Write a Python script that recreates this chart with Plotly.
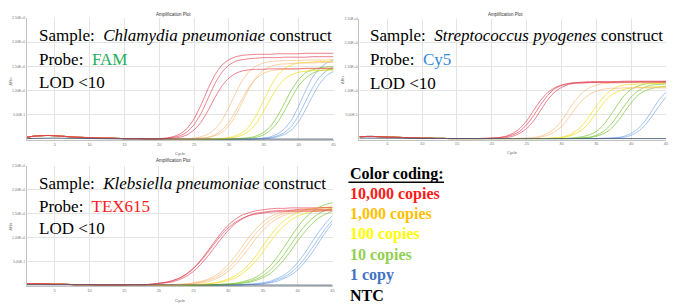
import plotly.graph_objects as go

W, H = 678, 304

CYCLES = list(range(1, 46))          # x axis: cycle number
X_TICKS = [5, 10, 15, 20, 25, 30, 35, 40, 45]
Y_TICKS = [0.5, 1.0, 1.5, 2.0, 2.5]
Y_TICK_TEXT = ["5.00E-1", "1.00E+0", "1.50E+0", "2.00E+0", "2.50E+0"]

# ---- Panel 1 : Chlamydia pneumoniae / FAM  (early cycles 1-18 shared, then cycles 19-45 per curve)
P1_BASE = [0.04, 0.06, 0.07, 0.075, 0.07, 0.06, 0.05, 0.04, 0.035, 0.03, 0.025, 0.02, 0.02, 0.015, 0.01, 0.01, 0.01, 0.005]
P1_RED = [
    [0.01, 0.01, 0.02, 0.05, 0.11, 0.22, 0.42, 0.71, 1.04, 1.33, 1.53, 1.64, 1.70, 1.73, 1.74, 1.75, 1.75, 1.75, 1.76, 1.76, 1.76, 1.76, 1.77, 1.77, 1.77, 1.77, 1.77],
    [0.00, 0.01, 0.02, 0.04, 0.07, 0.15, 0.30, 0.53, 0.84, 1.15, 1.38, 1.53, 1.61, 1.64, 1.66, 1.67, 1.68, 1.68, 1.68, 1.69, 1.69, 1.69, 1.69, 1.70, 1.70, 1.70, 1.70],
    [0.00, 0.00, 0.01, 0.02, 0.04, 0.09, 0.19, 0.35, 0.59, 0.86, 1.10, 1.26, 1.36, 1.41, 1.43, 1.44, 1.44, 1.45, 1.45, 1.45, 1.45, 1.45, 1.46, 1.46, 1.46, 1.46, 1.46],
]
P1_ORANGE = [
    [0, 0, 0, 0, 0, 0.01, 0.02, 0.05, 0.10, 0.21, 0.39, 0.66, 0.96, 1.23, 1.41, 1.52, 1.57, 1.60, 1.61, 1.62, 1.62, 1.62, 1.63, 1.63, 1.63, 1.63, 1.64],
    [0, 0, 0, 0, 0, 0, 0.01, 0.02, 0.04, 0.09, 0.19, 0.35, 0.59, 0.86, 1.10, 1.26, 1.36, 1.41, 1.43, 1.44, 1.44, 1.45, 1.45, 1.45, 1.45, 1.46, 1.46],
    [0, 0, 0, 0, 0, 0, 0.01, 0.02, 0.03, 0.07, 0.14, 0.28, 0.50, 0.79, 1.07, 1.29, 1.43, 1.50, 1.54, 1.55, 1.56, 1.57, 1.57, 1.57, 1.58, 1.58, 1.58],
]
P1_YELLOW = [
    [0, 0, 0, 0, 0, 0, 0, 0, 0, 0.01, 0.02, 0.03, 0.07, 0.14, 0.28, 0.51, 0.80, 1.09, 1.32, 1.46, 1.53, 1.57, 1.58, 1.59, 1.60, 1.60, 1.61],
    [0, 0, 0, 0, 0, 0, 0, 0, 0, 0.00, 0.01, 0.02, 0.04, 0.09, 0.18, 0.34, 0.58, 0.84, 1.08, 1.24, 1.33, 1.38, 1.40, 1.41, 1.42, 1.42, 1.42],
]
P1_GREEN = [
    [0, 0, 0, 0, 0, 0, 0, 0, 0, 0, 0, 0, 0.01, 0.02, 0.03, 0.07, 0.14, 0.27, 0.48, 0.75, 1.02, 1.23, 1.37, 1.43, 1.47, 1.49, 1.49],
    [0, 0, 0, 0, 0, 0, 0, 0, 0, 0, 0, 0, 0, 0.01, 0.02, 0.04, 0.09, 0.19, 0.35, 0.59, 0.86, 1.10, 1.26, 1.36, 1.41, 1.43, 1.44],
]
P1_BLUE = [
    [0, 0, 0, 0, 0, 0, 0, 0, 0, 0, 0, 0, 0, 0, 0, 0.01, 0.02, 0.05, 0.11, 0.22, 0.40, 0.68, 1.00, 1.28, 1.46, 1.57, 1.63],
    [0, 0, 0, 0, 0, 0, 0, 0, 0, 0, 0, 0, 0, 0, 0, 0.01, 0.02, 0.03, 0.07, 0.14, 0.27, 0.49, 0.78, 1.06, 1.28, 1.41, 1.48],
    [0, 0, 0, 0, 0, 0, 0, 0, 0, 0, 0, 0, 0, 0, 0, 0, 0.01, 0.02, 0.05, 0.10, 0.19, 0.36, 0.61, 0.89, 1.14, 1.31, 1.40],
]
P1_NTC = [0] * 27

# ---- Panel 2 : Streptococcus pyogenes / Cy5
P2_BASE = [0.04, 0.045, 0.045, 0.04, 0.035, 0.03, 0.025, 0.02, 0.015, 0.01, 0.01, 0.005, 0.005, 0, 0, 0, 0, 0]
P2_RED = [
    [0.00, 0.01, 0.02, 0.04, 0.08, 0.15, 0.29, 0.48, 0.71, 0.90, 1.04, 1.11, 1.15, 1.17, 1.18, 1.19, 1.19, 1.19, 1.19, 1.19, 1.20, 1.20, 1.20, 1.20, 1.20, 1.20, 1.20],
    [0.01, 0.01, 0.02, 0.05, 0.11, 0.21, 0.37, 0.59, 0.80, 0.96, 1.06, 1.12, 1.15, 1.16, 1.16, 1.17, 1.17, 1.17, 1.17, 1.18, 1.18, 1.18, 1.18, 1.18, 1.18, 1.18, 1.18],
    [0.00, 0.01, 0.01, 0.02, 0.05, 0.11, 0.21, 0.37, 0.59, 0.81, 0.97, 1.07, 1.13, 1.16, 1.17, 1.17, 1.18, 1.18, 1.18, 1.18, 1.18, 1.18, 1.19, 1.19, 1.19, 1.19, 1.19],
]
P2_ORANGE = [
    [0, 0, 0, 0, 0.00, 0.01, 0.01, 0.02, 0.05, 0.11, 0.21, 0.37, 0.59, 0.80, 0.96, 1.06, 1.12, 1.15, 1.16, 1.16, 1.17, 1.17, 1.17, 1.17, 1.17, 1.17, 1.17],
    [0, 0, 0, 0, 0, 0.00, 0.01, 0.01, 0.03, 0.07, 0.14, 0.25, 0.43, 0.63, 0.81, 0.92, 0.99, 1.03, 1.05, 1.05, 1.06, 1.06, 1.06, 1.06, 1.06, 1.06, 1.06],
]
P2_YELLOW = [
    [0, 0, 0, 0, 0, 0, 0, 0, 0.00, 0.01, 0.02, 0.03, 0.07, 0.15, 0.28, 0.47, 0.68, 0.87, 1.00, 1.08, 1.12, 1.13, 1.14, 1.15, 1.15, 1.15, 1.15],
    [0, 0, 0, 0, 0, 0, 0, 0, 0, 0.00, 0.01, 0.02, 0.05, 0.10, 0.19, 0.34, 0.54, 0.74, 0.89, 0.98, 1.03, 1.06, 1.07, 1.07, 1.08, 1.08, 1.08],
]
P2_GREEN = [
    [0, 0, 0, 0, 0, 0, 0, 0, 0, 0, 0, 0.00, 0.01, 0.02, 0.04, 0.08, 0.15, 0.28, 0.48, 0.70, 0.90, 1.03, 1.10, 1.14, 1.16, 1.17, 1.18],
    [0, 0, 0, 0, 0, 0, 0, 0, 0, 0, 0, 0, 0.00, 0.01, 0.02, 0.03, 0.07, 0.15, 0.28, 0.47, 0.68, 0.87, 1.00, 1.08, 1.12, 1.13, 1.14],
    [0, 0, 0, 0, 0, 0, 0, 0, 0, 0, 0, 0, 0, 0.00, 0.01, 0.02, 0.05, 0.10, 0.19, 0.35, 0.55, 0.75, 0.91, 1.00, 1.05, 1.08, 1.09],
]
P2_BLUE = [
    [0, 0, 0, 0, 0, 0, 0, 0, 0, 0, 0, 0, 0, 0, 0, 0, 0, 0.01, 0.01, 0.02, 0.05, 0.11, 0.21, 0.37, 0.59, 0.81, 0.97],
    [0, 0, 0, 0, 0, 0, 0, 0, 0, 0, 0, 0, 0, 0, 0, 0, 0, 0, 0.01, 0.02, 0.03, 0.07, 0.15, 0.28, 0.47, 0.68, 0.87],
]
P2_NTC = [0] * 27

# ---- Panel 3 : Klebsiella pneumoniae / TEX615
P3_BASE = [0.03, 0.03, 0.03, 0.025, 0.02, 0.02, 0.015, 0.01, 0.01, 0.01, 0.005, 0.005, 0.005, 0.005, 0.005, 0.01, 0.01, 0.01]
P3_RED = [
    [0.02, 0.04, 0.06, 0.10, 0.15, 0.24, 0.36, 0.52, 0.71, 0.91, 1.10, 1.26, 1.38, 1.47, 1.52, 1.56, 1.58, 1.60, 1.61, 1.61, 1.62, 1.62, 1.62, 1.62, 1.62, 1.63, 1.63],
    [0.02, 0.04, 0.06, 0.09, 0.15, 0.23, 0.35, 0.50, 0.68, 0.87, 1.05, 1.20, 1.32, 1.40, 1.46, 1.49, 1.51, 1.53, 1.54, 1.54, 1.55, 1.55, 1.55, 1.55, 1.55, 1.56, 1.56],
    [0.02, 0.03, 0.05, 0.07, 0.12, 0.19, 0.29, 0.43, 0.60, 0.79, 0.98, 1.15, 1.29, 1.39, 1.46, 1.51, 1.53, 1.55, 1.56, 1.57, 1.57, 1.58, 1.58, 1.58, 1.58, 1.58, 1.58],
]
P3_ORANGE = [
    [0.00, 0.00, 0.01, 0.01, 0.02, 0.03, 0.05, 0.08, 0.12, 0.19, 0.29, 0.44, 0.61, 0.81, 1.01, 1.18, 1.33, 1.43, 1.50, 1.54, 1.57, 1.59, 1.60, 1.61, 1.61, 1.62, 1.62],
    [0.00, 0.00, 0.01, 0.01, 0.01, 0.02, 0.04, 0.06, 0.10, 0.15, 0.24, 0.36, 0.51, 0.70, 0.90, 1.09, 1.24, 1.36, 1.45, 1.50, 1.54, 1.56, 1.58, 1.59, 1.59, 1.60, 1.60],
    [0.00, 0.00, 0.00, 0.01, 0.01, 0.02, 0.03, 0.05, 0.07, 0.12, 0.19, 0.29, 0.43, 0.60, 0.79, 0.98, 1.15, 1.29, 1.39, 1.46, 1.51, 1.53, 1.55, 1.56, 1.57, 1.57, 1.58],
]
P3_YELLOW = [
    [0, 0, 0, 0, 0, 0.01, 0.01, 0.02, 0.03, 0.05, 0.08, 0.13, 0.20, 0.30, 0.44, 0.62, 0.83, 1.03, 1.21, 1.35, 1.45, 1.52, 1.57, 1.60, 1.62, 1.63, 1.64],
    [0, 0, 0, 0, 0, 0, 0.01, 0.01, 0.02, 0.04, 0.06, 0.10, 0.15, 0.24, 0.36, 0.51, 0.70, 0.90, 1.09, 1.24, 1.36, 1.45, 1.50, 1.54, 1.56, 1.58, 1.59],
]
P3_GREEN = [
    [0, 0, 0, 0, 0, 0, 0, 0, 0, 0.01, 0.02, 0.03, 0.04, 0.07, 0.11, 0.17, 0.27, 0.40, 0.58, 0.79, 1.01, 1.22, 1.40, 1.53, 1.63, 1.69, 1.73],
    [0, 0, 0, 0, 0, 0, 0, 0, 0, 0.01, 0.01, 0.02, 0.03, 0.05, 0.08, 0.13, 0.20, 0.31, 0.46, 0.64, 0.85, 1.06, 1.24, 1.39, 1.50, 1.57, 1.62],
    [0, 0, 0, 0, 0, 0, 0, 0, 0, 0, 0.01, 0.01, 0.02, 0.04, 0.06, 0.10, 0.16, 0.24, 0.37, 0.53, 0.72, 0.93, 1.12, 1.28, 1.41, 1.49, 1.55],
]
P3_BLUE = [
    [0, 0, 0, 0, 0, 0, 0, 0, 0, 0, 0, 0, 0.01, 0.01, 0.02, 0.03, 0.05, 0.08, 0.14, 0.21, 0.32, 0.48, 0.67, 0.89, 1.11, 1.30, 1.46],
    [0, 0, 0, 0, 0, 0, 0, 0, 0, 0, 0, 0, 0, 0.01, 0.02, 0.02, 0.04, 0.06, 0.11, 0.17, 0.26, 0.39, 0.56, 0.77, 0.98, 1.19, 1.36],
    [0, 0, 0, 0, 0, 0, 0, 0, 0, 0, 0, 0, 0, 0, 0.01, 0.02, 0.03, 0.05, 0.08, 0.14, 0.21, 0.32, 0.48, 0.67, 0.89, 1.11, 1.30],
]
P3_NTC = [0] * 27

LINE_COLORS = {
    "blue": "rgba(100,155,232,0.6)",
    "green": "rgba(118,196,48,0.7)",
    "yellow": "rgba(242,222,40,0.75)",
    "orange": "rgba(248,176,105,0.6)",
    "red": "rgba(226,58,78,0.65)",
    "ntc": "rgba(70,86,112,0.9)",
}

LEGEND_ITEMS = ["10,000 copies", "1,000 copies", "100 copies", "10 copies", "1 copy", "NTC"]
LEGEND_COLORS = ["#FF1A1A", "#FFC000", "#FFFF00", "#92D050", "#4472C4", "#000000"]


def px(x):
    return x / W


def py(y):
    return 1 - y / H


# plot-area pixel boxes (left, right, top, bottom)
BOXES = [(27, 335, 16, 139), (361, 669, 17, 138.5), (27, 334, 165, 286)]

panels = [
    (P1_BASE, [("blue", P1_BLUE), ("green", P1_GREEN), ("yellow", P1_YELLOW), ("orange", P1_ORANGE), ("red", P1_RED)], P1_NTC),
    (P2_BASE, [("blue", P2_BLUE), ("green", P2_GREEN), ("yellow", P2_YELLOW), ("orange", P2_ORANGE), ("red", P2_RED)], P2_NTC),
    (P3_BASE, [("blue", P3_BLUE), ("green", P3_GREEN), ("yellow", P3_YELLOW), ("orange", P3_ORANGE), ("red", P3_RED)], P3_NTC),
]

fig = go.Figure()
layout = dict(
    width=W, height=H, margin=dict(l=0, r=0, t=0, b=0),
    paper_bgcolor="white", plot_bgcolor="white", showlegend=False,
    font=dict(family="Liberation Sans, Arial", color="#555"),
)

for i, (base, groups, ntc) in enumerate(panels):
    n = "" if i == 0 else str(i + 1)
    xa, ya = "x" + n, "y" + n
    for cname, reps in groups:
        for rep in reps:
            fig.add_trace(go.Scatter(
                x=CYCLES, y=base + rep, mode="lines", xaxis=xa, yaxis=ya,
                line=dict(color=LINE_COLORS[cname], width=1, shape="spline", smoothing=0.5),
                hoverinfo="skip"))
    fig.add_trace(go.Scatter(
        x=CYCLES, y=[v * 0.3 for v in base] + ntc, mode="lines", xaxis=xa, yaxis=ya,
        line=dict(color=LINE_COLORS["ntc"], width=1), hoverinfo="skip"))
    l, r, t, b = BOXES[i]
    layout["xaxis" + n] = dict(
        domain=[px(l), px(r)], anchor=ya, range=[1, 45], tickvals=X_TICKS,
        showgrid=True, gridcolor="#e4e4e4", gridwidth=1, zeroline=False,
        showline=True, linecolor="#c4c4c4", linewidth=1, ticks="",
        tickfont=dict(size=4, color="#777"))
    layout["yaxis" + n] = dict(
        domain=[py(b), py(t)], anchor=xa, range=[-0.02, 2.5], tickvals=Y_TICKS,
        ticktext=Y_TICK_TEXT, showgrid=True, gridcolor="#e4e4e4", gridwidth=1,
        zeroline=False, showline=True, linecolor="#c4c4c4", linewidth=1,
        ticks="", tickfont=dict(size=3.5, color="#777"))

fig.update_layout(**layout)

ann = []


def add_text(x, y, text, size, color="black", family="Times New Roman, Liberation Serif, serif", xanchor="left", angle=0):
    ann.append(dict(x=px(x), y=py(y), xref="paper", yref="paper", text=text, showarrow=False,
                    xanchor=xanchor, yanchor="middle", textangle=angle,
                    font=dict(size=size, color=color, family=family)))


SMALL = "Liberation Sans, Arial"
# chart titles, axis titles
for (tx, ty) in [(174, 13), (508, 13), (174, 160)]:
    add_text(tx, ty, "Amplification Plot", 4.5, "#333", SMALL, "center")
for (tx, ty) in [(181, 152), (515, 151), (181, 300)]:
    add_text(tx, ty, "Cycle", 4, "#666", SMALL, "center")
for (tx, ty) in [(11, 80), (344, 78), (11, 226)]:
    add_text(tx, ty, "ΔRn", 4, "#666", SMALL, "center", -90)

SP = "\u00a0 "
add_text(37, 34, "Sample:" + SP + "<i>Chlamydia pneumoniae</i> construct", 17)
add_text(37, 58, "Probe:" + SP + "<span style='color:#1DB058'>FAM</span>", 17)
add_text(37, 81, "LOD &lt;10", 17)

add_text(370, 34, "Sample:" + SP + "<i>Streptococcus pyogenes</i> construct", 17)
add_text(370, 58, "Probe:" + SP + "<span style='color:#2E8BD6'>Cy5</span>", 17)
add_text(370, 82, "LOD &lt;10", 17)

add_text(37, 183, "Sample:" + SP + "<i>Klebsiella pneumoniae</i> construct", 17)
add_text(37, 206, "Probe:" + SP + "<span style='color:#FF1A1A'>TEX615</span>", 17)
add_text(37, 228, "LOD &lt;10", 17)

add_text(350, 173, "<b>Color coding:</b>", 16)
for k, (lab, col) in enumerate(zip(LEGEND_ITEMS, LEGEND_COLORS)):
    add_text(350, 193 + k * 20.4, "<b>" + lab + "</b>", 16, col)

fig.update_layout(annotations=ann, shapes=[
    dict(type="line", xref="paper", yref="paper", x0=px(350), x1=px(446), y0=py(181.5), y1=py(181.5),
         line=dict(color="black", width=1.6))
])

fig.write_html("out.html", config={"displayModeBar": False},
               post_script="document.body.style.margin='0px';document.body.style.overflow='hidden';")
